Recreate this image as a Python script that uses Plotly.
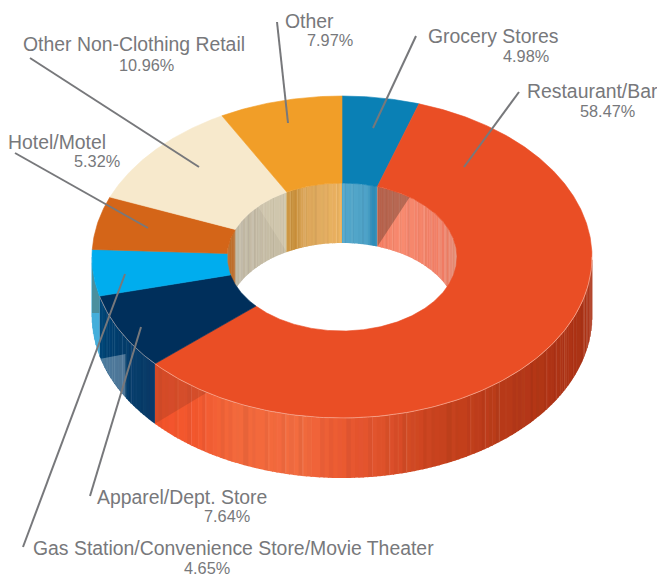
import numpy as np
import plotly.graph_objects as go

CATEGORIES = ["Grocery Stores", "Restaurant/Bar", "Apparel/Dept. Store",
              "Gas Station/Convenience Store/Movie Theater", "Hotel/Motel",
              "Other Non-Clothing Retail", "Other"]
SHARES = [4.98, 58.47, 7.64, 4.65, 5.32, 10.96, 7.97]
TOP_COLORS = ["#0A80B5", "#EA4E25", "#002F5B", "#00ADEE", "#D46518", "#F7E9CC", "#F19E28"]

# style: wall colour stops (angle on the donut in degrees, colour)
OUTER_WALL = {
    "Restaurant/Bar": [(90, "#A93114"), (120, "#AE3315"), (140, "#B83A18"), (160, "#CC4520"),
                       (170, "#DE512B"), (180, "#EC5A32"), (190, "#F26B3F"), (205, "#F2683B"),
                       (215, "#F4582E"), (229, "#F4522A")],
    "Apparel/Dept. Store": [(228, "#0A3A68"), (245, "#003E6E"), (256, "#00487A")],
    "Gas Station/Convenience Store/Movie Theater": [(255, "#45ADDC"), (273, "#45ADDC")],
}
INNER_WALL = {
    "Grocery Stores": [(0, "#52A7CB"), (12, "#4FA3C8"), (15, "#2E8DB9"), (18, "#3E97C0")],
    "Restaurant/Bar": [(17, "#F57A5C"), (30, "#F88A70"), (60, "#F17C62"), (80, "#E08068"), (90, "#DB7C66")],
    "Gas Station/Convenience Store/Movie Theater": [(270, "#B85F14"), (273, "#B85F14")],
    "Hotel/Motel": [(272, "#B85F14"), (292, "#B85F14")],
    "Other Non-Clothing Retail": [(291, "#BDB6A2"), (332, "#C9BFA6")],
    "Other": [(331, "#D09A45"), (335, "#C98F38"), (340, "#DBA559"), (350, "#E3AE62"), (360, "#EFB460")],
}
STRIPES = [0, .30, 0, .05, 0, .22, 0, 0, .12, 0, .34, 0, .04, 0, .18, 0, .26, 0, 0, .08, 0, .32, 0, .14]

CX, CY, RX, RY = 342, 257, 250, 161
HOLE_RX, HOLE_RY = 115, 74
DEPTH = 60

LABEL_NAMES = [("Other", 283, 21), ("Other Non-Clothing Retail", 21, 44), ("Hotel/Motel", 6, 142),
               ("Grocery Stores", 426, 36), ("Restaurant/Bar", 525, 91), ("Apparel/Dept. Store", 95, 497),
               ("Gas Station/Convenience Store/Movie Theater", 31, 548)]
LABEL_PCTS = {"Other": (305, 40), "Other Non-Clothing Retail": (117, 65), "Hotel/Motel": (72, 161),
              "Grocery Stores": (501, 56), "Restaurant/Bar": (578, 111), "Apparel/Dept. Store": (202, 516),
              "Gas Station/Convenience Store/Movie Theater": (182, 568)}
LEADERS = [((277, 22), (288, 123)), ((30, 58), (199, 167)), ((15, 153), (148, 228)),
           ((416, 36), (373, 128)), ((519, 92), (464, 167)), ((141, 327), (90, 496)), ((125, 274), (23, 547))]
TEXT = "#77787B"
FONT = "Liberation Sans"


def hx(c):
    return np.array([int(c[i:i + 2], 16) for i in (1, 3, 5)], float)


def tohex(v):
    v = np.clip(np.round(np.asarray(v) / 3) * 3, 0, 255).astype(int)
    return "#%02X%02X%02X" % tuple(v)


def pt(deg, rx, ry, dy=0.0):
    t = np.radians(deg)
    return CX + rx * np.sin(t), CY - ry * np.cos(t) + dy


def stop_color(deg, stops):
    a = [s[0] for s in stops]
    rgb = [np.interp(deg, a, [hx(s[1])[k] for s in stops]) for k in range(3)]
    return np.array(rgb)


ends = np.cumsum(SHARES) / sum(SHARES) * 360
starts = np.concatenate([[0], ends[:-1]])
fig = go.Figure()
fills, lines = {}, {}


def add(store, color, xs, ys):
    g = store.setdefault(color, ([], []))
    g[0].extend(list(xs) + [None])
    g[1].extend(list(ys) + [None])


def wall(a0, a1, rx, ry, stops, amp):
    a = a0
    while a < a1 - 1e-6:
        b = min(a + 1.0, a1)
        c = stop_color(a, stops)
        s = STRIPES[int(a) % len(STRIPES)]
        x0, y0 = pt(a, rx, ry)
        x1, y1 = pt(min(b + .25, a1), rx, ry)
        add(fills, tohex(c * (1 - amp * .25 * s)), [x0, x1, x1, x0, x0], [y0, y1, y1 + DEPTH, y0 + DEPTH, y0])
        if s > 0 and int(a) % 2 == 1:
            lc = c + (255 - c) * amp * s
            add(lines, tohex(lc), [x0, x0], [y0, y0 + DEPTH])
        a = b


def flush():
    global fills, lines
    for c, (xs, ys) in fills.items():
        fig.add_scatter(x=xs, y=ys, mode="lines", fill="toself", fillcolor=c, line=dict(width=0), hoverinfo="skip")
    for c, (xs, ys) in lines.items():
        fig.add_scatter(x=xs, y=ys, mode="lines", line=dict(color=c, width=.8), hoverinfo="skip")
    fills, lines = {}, {}


def overlay(xs, ys, color):
    fig.add_scatter(x=xs, y=ys, mode="lines", fill="toself", fillcolor=color, line=dict(width=0), hoverinfo="skip")


# inner wall, back half of the hole
for name, a0, a1 in zip(CATEGORIES, starts, ends):
    if name in INNER_WALL:
        stops = INNER_WALL[name]
        if a0 < 90:
            wall(a0, min(a1, 90), HOLE_RX, HOLE_RY, stops, .55)
        if a1 > 270:
            wall(max(a0, 270), a1, HOLE_RX, HOLE_RY, stops, .55)
flush()

iR = CATEGORIES.index("Restaurant/Bar")
iO = CATEGORIES.index("Other Non-Clothing Retail")
iA = CATEGORIES.index("Apparel/Dept. Store")
iG = CATEGORIES.index("Gas Station/Convenience Store/Movie Theater")

# soft shadows on the inner wall
deg = np.linspace(ends[0], 36, 20)
p = np.array([pt(d, HOLE_RX, HOLE_RY) for d in deg])
bx, by = pt(ends[0], HOLE_RX, HOLE_RY, DEPTH)
overlay(list(p[:, 0]) + [bx, p[0, 0]], list(p[:, 1]) + [by, p[0, 1]], "rgba(95,60,45,0.42)")
deg = np.linspace(ends[iO], 313, 20)
p = np.array([pt(d, HOLE_RX, HOLE_RY) for d in deg])
bx, by = pt(ends[iO], HOLE_RX, HOLE_RY, DEPTH)
overlay(list(p[:, 0]) + [bx, p[0, 0]], list(p[:, 1]) + [by, p[0, 1]], "rgba(245,235,205,0.2)")

# outer wall, front half
for name, a0, a1 in zip(CATEGORIES, starts, ends):
    if name in OUTER_WALL:
        amp = {"Restaurant/Bar": .5, "Apparel/Dept. Store": .5}.get(name, 0)
        wall(max(a0, 90), min(a1, 270), RX, RY, OUTER_WALL[name], amp)
flush()

# dark wedge at the left of the restaurant wall
deg = np.linspace(ends[iR], 212.7, 20)
p = np.array([pt(d, RX, RY) for d in deg])
bx, by = pt(ends[iR], RX, RY, DEPTH)
overlay(list(p[:, 0]) + [bx, p[0, 0]], list(p[:, 1]) + [by, p[0, 1]], "rgba(110,45,30,0.22)")

# reflections on the left walls
deg = np.linspace(ends[iG - 1], 240, 20)
bot = np.array([pt(d, RX, RY, DEPTH) for d in deg])
bend = pt(240, RX, RY, 0)
overlay([bot[0, 0]] + [bot[0, 0], bend[0]] + list(bot[::-1, 0]),
        [bot[0, 1]] + [359, 354] + list(bot[::-1, 1]), "rgba(255,255,255,0.30)")
deg = np.linspace(ends[iA], 270, 16)
top = np.array([pt(d, RX, RY) for d in deg])
overlay(list(top[:, 0]) + [top[-1, 0], top[0, 0], top[0, 0]],
        list(top[:, 1]) + [313, 313, top[0, 1]], "#4A8F9E")

# top face of the ring
for name, col, a0, a1 in zip(CATEGORIES, TOP_COLORS, starts, ends):
    d = np.linspace(a0, a1, max(int(a1 - a0) * 2, 12))
    o = np.array([pt(v, RX, RY) for v in d])
    i = np.array([pt(v, HOLE_RX, HOLE_RY) for v in d[::-1]])
    xs = np.concatenate([o[:, 0], i[:, 0], o[:1, 0]])
    ys = np.concatenate([o[:, 1], i[:, 1], o[:1, 1]])
    fig.add_scatter(x=xs, y=ys, mode="lines", fill="toself", fillcolor=col, name=name,
                    line=dict(color=col, width=.6), hoverinfo="skip")

# pale rim along the front edge
d = np.linspace(90, ends[iA], 200)
r = np.array([pt(v, RX, RY) for v in d])
fig.add_scatter(x=r[:, 0], y=r[:, 1], mode="lines", line=dict(color="rgba(255,225,210,0.45)", width=1), hoverinfo="skip")

for (x0, y0), (x1, y1) in LEADERS:
    fig.add_scatter(x=[x0, x1], y=[y0, y1], mode="lines", line=dict(color="#77787B", width=2), hoverinfo="skip")

ann = []
for name, x, y in LABEL_NAMES:
    ann.append(dict(x=x, y=y, text=name, showarrow=False, xanchor="left", yanchor="middle",
                    font=dict(family=FONT, size=19.4, color=TEXT)))
    share = SHARES[CATEGORIES.index(name)]
    px, py = LABEL_PCTS[name]
    ann.append(dict(x=px, y=py, text=f"{share:.2f}%", showarrow=False, xanchor="left", yanchor="middle",
                    font=dict(family=FONT, size=16.3, color=TEXT)))

fig.update_layout(width=657, height=576, margin=dict(l=0, r=0, t=0, b=0), showlegend=False,
                  paper_bgcolor="white", plot_bgcolor="white", annotations=ann,
                  xaxis=dict(visible=False, range=[0, 657], fixedrange=True),
                  yaxis=dict(visible=False, range=[576, 0], fixedrange=True))
fig.write_html("out.html", config=dict(displayModeBar=False),
               post_script="document.body.style.margin='0';document.body.style.overflow='hidden';")
